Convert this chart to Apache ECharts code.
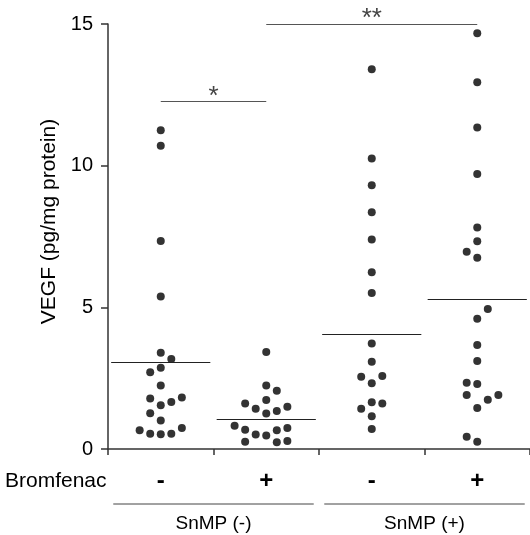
<!DOCTYPE html>
<html>
<head>
<meta charset="utf-8">
<script src="https://cdn.jsdelivr.net/npm/echarts@6/dist/echarts.min.js"></script>
<style>
  html, body { margin: 0; padding: 0; background: #fff; }
  #chart { width: 530px; height: 535px; }
</style>
</head>
<body>
<div id="chart"></div>
<script>
// bromfenac row (one per column) and SnMP groups
const bromLabels = ['-', '+', '-', '+'];
const snmpLabels = ['SnMP (-)', 'SnMP (+)'];

// VEGF values per column, with their beeswarm column offset
const g1Values = [11.25, 10.7, 7.34, 5.38, 3.40, 3.18, 2.87, 2.71, 2.24, 1.82, 1.78, 1.66, 1.54, 1.26, 1.01, 0.74, 0.66, 0.54, 0.52, 0.54];
const g1Cols   = [0, 0, 0, 0, 0, 1, 0, -1, 0, 2, -1, 1, 0, -1, 0, 2, -2, -1, 0, 1];
const g2Values = [3.42, 2.24, 2.06, 1.73, 1.61, 1.49, 1.42, 1.34, 1.25, 0.82, 0.74, 0.68, 0.66, 0.51, 0.48, 0.28, 0.26, 0.24];
const g2Cols   = [0, 0, 1, 0, -2, 2, -1, 1, 0, -3, 2, -2, 1, -1, 0, 2, -2, 1];
const g3Values = [13.4, 10.25, 9.31, 8.36, 7.39, 6.24, 5.51, 3.72, 3.08, 2.58, 2.55, 2.32, 1.65, 1.61, 1.42, 1.16, 0.71];
const g3Cols   = [0, 0, 0, 0, 0, 0, 0, 0, 0, 1, -1, 0, 0, 1, -1, 0, 0];
const g4Values = [14.67, 12.94, 11.35, 9.71, 7.82, 7.33, 6.96, 6.75, 4.94, 4.60, 3.67, 3.11, 2.34, 2.29, 1.91, 1.91, 1.74, 1.45, 0.43, 0.26];
const g4Cols   = [0, 0, 0, 0, 0, 0, -1, 0, 1, 0, 0, 0, -1, 0, -1, 2, 1, 0, -1, 0];

// group means (horizontal bars)
const means = [3.05, 1.05, 4.06, 5.29];

// significance brackets
const sigPairs = [[0, 1], [1, 3]];
const sigLevels = [12.27, 15];
const sigMarks = ['*', '**'];

const FONT = 'Liberation Sans, Arial, Helvetica, sans-serif';
const colStep = 0.1;

const groups = [
    [g1Values, g1Cols],
    [g2Values, g2Cols],
    [g3Values, g3Cols],
    [g4Values, g4Cols]
];

let points = [];
groups.forEach((g, gi) => {
    g[0].forEach((v, i) => {
        points.push([gi + 0.5 + g[1][i] * colStep, v]);
    });
});

let meanLines = means.map((m, i) => [
    { coord: [i + 0.03, m] },
    { coord: [i + 0.97, m] }
]);

let sigLines = sigPairs.map((p, i) => [
    { coord: [p[0] + 0.5, sigLevels[i]], label: { formatter: sigMarks[i] } },
    { coord: [p[1] + 0.5, sigLevels[i]] }
]);

const chart = echarts.init(document.getElementById('chart'));

chart.setOption({
    animation: false,
    backgroundColor: '#fff',
    grid: { left: 108, right: 0, top: 24, bottom: 86 },
    xAxis: [{
        type: 'category',
        data: bromLabels,
        boundaryGap: true,
        axisLine: { lineStyle: { color: '#333', width: 1.5 } },
        axisTick: { show: true, length: 6, lineStyle: { color: '#333', width: 1.5 } },
        axisLabel: { color: '#000', fontSize: 24, fontWeight: 'bold', fontFamily: FONT, margin: 20 }
    }, {
        type: 'value',
        min: 0,
        max: 4,
        show: false
    }, {
        type: 'category',
        data: snmpLabels,
        position: 'bottom',
        axisLine: { show: false },
        axisTick: { show: false },
        axisLabel: { color: '#000', fontSize: 19, fontFamily: FONT, margin: 65 }
    }],
    yAxis: {
        type: 'value',
        min: 0,
        max: 15,
        interval: 5,
        name: 'VEGF (pg/mg protein)',
        nameLocation: 'middle',
        nameGap: 47,
        nameTextStyle: { color: '#000', fontSize: 21, fontFamily: FONT, padding: [0, 0, 0, 30] },
        axisLine: { show: true, lineStyle: { color: '#333', width: 1.5 } },
        axisTick: { show: true, length: 7, lineStyle: { color: '#333', width: 1.5 } },
        axisLabel: { color: '#000', fontSize: 20, fontFamily: FONT, margin: 15 },
        splitLine: { show: false }
    },
    series: [{
        type: 'scatter',
        xAxisIndex: 1,
        data: points,
        symbolSize: 8,
        itemStyle: { color: '#000' },
        markLine: {
            silent: true,
            symbol: ['none', 'none'],
            lineStyle: { color: '#222', width: 1, type: 'solid' },
            label: { show: false },
            data: meanLines
        }
    }, {
        type: 'scatter',
        xAxisIndex: 1,
        data: [],
        markLine: {
            silent: true,
            symbol: ['none', 'none'],
            lineStyle: { color: '#555', width: 1, type: 'solid' },
            label: {
                show: true,
                position: 'middle',
                color: '#444',
                fontSize: 26,
                fontFamily: FONT,
                distance: -8
            },
            data: sigLines
        }
    }]
});

// underlines of the SnMP groups and the row label
let underline = snmpLabels.map((s, i) => {
    let a = chart.convertToPixel({ xAxisIndex: 1, yAxisIndex: 0 }, [i * 2 + 0.05, 0]);
    let b = chart.convertToPixel({ xAxisIndex: 1, yAxisIndex: 0 }, [i * 2 + 1.95, 0]);
    return {
        type: 'line',
        shape: { x1: a[0], y1: a[1] + 55, x2: b[0], y2: b[1] + 55 },
        style: { stroke: '#444', lineWidth: 1 }
    };
});

chart.setOption({
    graphic: underline.concat([{
        type: 'text',
        left: 5,
        top: 471,
        style: { text: 'Bromfenac', fontSize: 21, fontFamily: FONT, fill: '#000' }
    }])
});
</script>
</body>
</html>
